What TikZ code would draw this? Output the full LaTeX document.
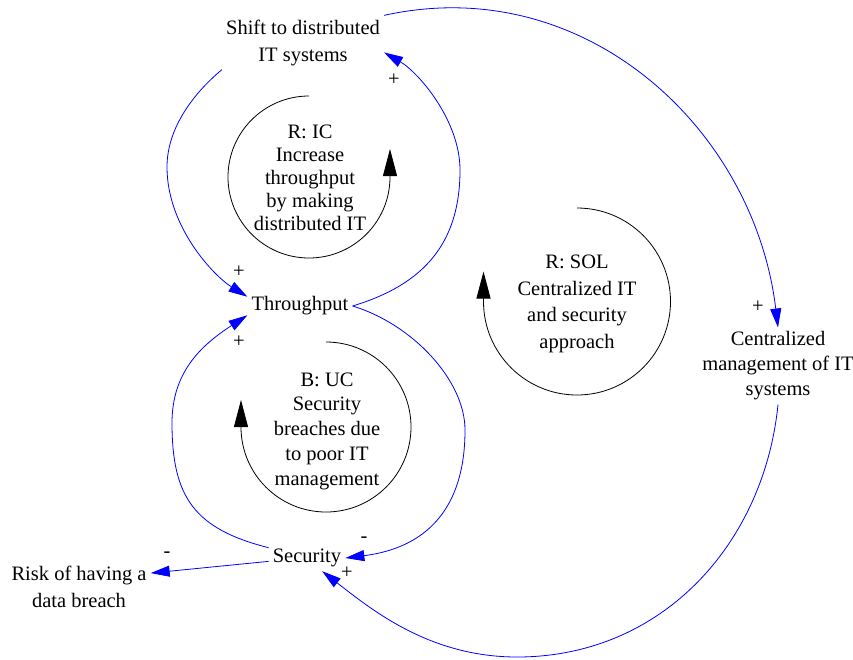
\documentclass[tikz,border=0pt]{standalone}
\usepackage{fontspec}
\setmainfont{Liberation Serif}
\usetikzlibrary{arrows.meta}

\begin{document}
\begin{tikzpicture}[x=1pt,y=1pt,
  var/.style={inner sep=4pt, align=center, font=\fontsize{20.5}{25}\selectfont},
  sign/.style={inner sep=0pt, font=\fontsize{20.5}{25}\selectfont},
  link/.style={blue, line width=0.8pt, -{Triangle[length=19pt,width=11pt]}},
  loopmark/.style={black, line width=0.8pt, -{Triangle[length=27pt,width=14pt]}},
]
\useasboundingbox (0,0) rectangle (853,-659);

% variables
\node[var, font=\fontsize{20.5}{27}\selectfont] (shift) at (303,-42.5) {Shift to distributed\\IT systems};
\node[var] (thr) at (300,-306) {Throughput};
\node[var] (sec) at (307,-558) {Security};
\node[var, font=\fontsize{20.5}{27}\selectfont] (risk) at (79,-587) {Risk of having a\\data breach};
\node[var] (cent) at (778,-366) {Centralized\\management of IT\\systems};

% loop labels
\node[var, font=\fontsize{20.5}{23}\selectfont] (ic) at (310,-178) {R: IC\\Increase\\throughput\\by making\\distributed IT};
\node[var, font=\fontsize{20.5}{24.75}\selectfont] (uc) at (327,-431) {B: UC\\Security\\breaches due\\to poor IT\\management};
\node[var, font=\fontsize{20.5}{26.5}\selectfont] (sol) at (577,-304) {R: SOL\\Centralized IT\\and security\\approach};

% loop direction markers
\draw[loopmark] (309,-96) arc[start angle=90, end angle=360, radius=81pt] -- ++(0,28);
\draw[loopmark] (326,-342) arc[start angle=90, end angle=-180, radius=85pt] -- ++(0,27);
\draw[loopmark] (577,-208) arc[start angle=90, end angle=-180, radius=93.5pt] -- ++(0,30);

% causal links
\draw[link] (shift.south west) .. controls (195,-92) and (167,-127) .. (167,-167)
  .. controls (167,-227) and (214,-276) .. (thr.170);
\draw[link] (thr.east) .. controls (422,-285) and (460,-245) .. (460,-170)
  .. controls (460,-120) and (418,-72) .. (shift.-7);
\draw[link] (sec.165) .. controls (195,-529) and (172,-498) .. (172,-423)
  .. controls (172,-373) and (200,-346) .. (thr.190);
\draw[link] (thr.east) .. controls (412,-324) and (465,-380) .. (465,-430)
  .. controls (465,-510) and (425,-548) .. (sec.east);
\draw[link] (sec.185) -- (risk.11);
\draw[link] (shift.north east) .. controls (584,29) and (754,-128) .. (cent.north);
\draw[link] (cent.south) .. controls (764,-544) and (662,-657) .. (517,-657)
  .. controls (430,-657) and (372,-610) .. (sec.-41);

% polarities
\node[sign] (s1) at (239,-272) {+};
\node[sign] (s2) at (394,-80) {+};
\node[sign] (s3) at (239,-342) {+};
\node[sign] (s4) at (364,-540) {-};
\node[sign] (s5) at (167,-555) {-};
\node[sign] (s6) at (347,-573) {+};
\node[sign] (s7) at (758,-307) {+};
\end{tikzpicture}
\end{document}
